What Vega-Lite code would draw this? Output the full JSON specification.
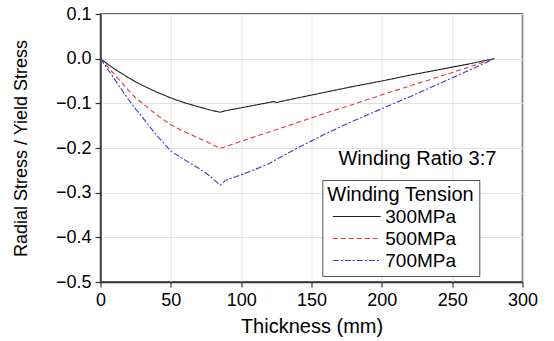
{
  "$schema": "https://vega.github.io/schema/vega-lite/v6.json",
  "width": 422,
  "height": 268,
  "autosize": {"type": "none"},
  "padding": {"left": 100.5, "top": 14, "right": 31.5, "bottom": 59},
  "background": "white",
  "config": {
    "font": "Liberation Sans",
    "view": {"stroke": "#333333", "strokeWidth": 1.5},
    "axis": {"grid": true, "gridColor": "#e2e2e2", "gridWidth": 1, "gridOpacity": 1},
    "legend": {
      "orient": "none",
      "legendX": 221.8,
      "legendY": 166,
      "padding": 5,
      "strokeColor": "#555555",
      "fillColor": "white",
      "titleFontSize": 20,
      "titleFontWeight": "normal",
      "titleColor": "black",
      "titleFont": "Liberation Sans",
      "labelFont": "Liberation Sans",
      "labelFontSize": 19,
      "labelColor": "black",
      "symbolType": "M-4,0H4",
      "symbolSize": 144,
      "symbolStrokeWidth": 1.2,
      "symbolOffset": 20,
      "labelOffset": 19,
      "rowPadding": 2,
      "titlePadding": 2
    }
  },
  "datasets": {
    "curves": [
      {"t": 0, "s": 0, "tension": "300MPa"},
      {"t": 5, "s": -0.012, "tension": "300MPa"},
      {"t": 10, "s": -0.023, "tension": "300MPa"},
      {"t": 15, "s": -0.033, "tension": "300MPa"},
      {"t": 20, "s": -0.043, "tension": "300MPa"},
      {"t": 25, "s": -0.052, "tension": "300MPa"},
      {"t": 30, "s": -0.06, "tension": "300MPa"},
      {"t": 40, "s": -0.075, "tension": "300MPa"},
      {"t": 50, "s": -0.088, "tension": "300MPa"},
      {"t": 60, "s": -0.099, "tension": "300MPa"},
      {"t": 70, "s": -0.108, "tension": "300MPa"},
      {"t": 78, "s": -0.115, "tension": "300MPa"},
      {"t": 85, "s": -0.12, "tension": "300MPa"},
      {"t": 88, "s": -0.117, "tension": "300MPa"},
      {"t": 100, "s": -0.11, "tension": "300MPa"},
      {"t": 110, "s": -0.104, "tension": "300MPa"},
      {"t": 120, "s": -0.098, "tension": "300MPa"},
      {"t": 123, "s": -0.096, "tension": "300MPa"},
      {"t": 125, "s": -0.098, "tension": "300MPa"},
      {"t": 140, "s": -0.088, "tension": "300MPa"},
      {"t": 160, "s": -0.075, "tension": "300MPa"},
      {"t": 180, "s": -0.062, "tension": "300MPa"},
      {"t": 200, "s": -0.05, "tension": "300MPa"},
      {"t": 220, "s": -0.037, "tension": "300MPa"},
      {"t": 240, "s": -0.025, "tension": "300MPa"},
      {"t": 260, "s": -0.013, "tension": "300MPa"},
      {"t": 280, "s": 0, "tension": "300MPa"},
      {"t": 0, "s": 0, "tension": "500MPa"},
      {"t": 5, "s": -0.018, "tension": "500MPa"},
      {"t": 10, "s": -0.036, "tension": "500MPa"},
      {"t": 15, "s": -0.053, "tension": "500MPa"},
      {"t": 20, "s": -0.071, "tension": "500MPa"},
      {"t": 25, "s": -0.088, "tension": "500MPa"},
      {"t": 30, "s": -0.1, "tension": "500MPa"},
      {"t": 40, "s": -0.126, "tension": "500MPa"},
      {"t": 50, "s": -0.148, "tension": "500MPa"},
      {"t": 60, "s": -0.164, "tension": "500MPa"},
      {"t": 70, "s": -0.178, "tension": "500MPa"},
      {"t": 78, "s": -0.19, "tension": "500MPa"},
      {"t": 85, "s": -0.201, "tension": "500MPa"},
      {"t": 100, "s": -0.185, "tension": "500MPa"},
      {"t": 120, "s": -0.164, "tension": "500MPa"},
      {"t": 140, "s": -0.143, "tension": "500MPa"},
      {"t": 160, "s": -0.122, "tension": "500MPa"},
      {"t": 180, "s": -0.102, "tension": "500MPa"},
      {"t": 200, "s": -0.081, "tension": "500MPa"},
      {"t": 220, "s": -0.061, "tension": "500MPa"},
      {"t": 240, "s": -0.041, "tension": "500MPa"},
      {"t": 260, "s": -0.021, "tension": "500MPa"},
      {"t": 280, "s": 0, "tension": "500MPa"},
      {"t": 0, "s": 0, "tension": "700MPa"},
      {"t": 5, "s": -0.023, "tension": "700MPa"},
      {"t": 10, "s": -0.046, "tension": "700MPa"},
      {"t": 15, "s": -0.069, "tension": "700MPa"},
      {"t": 20, "s": -0.092, "tension": "700MPa"},
      {"t": 25, "s": -0.113, "tension": "700MPa"},
      {"t": 30, "s": -0.132, "tension": "700MPa"},
      {"t": 40, "s": -0.172, "tension": "700MPa"},
      {"t": 50, "s": -0.207, "tension": "700MPa"},
      {"t": 60, "s": -0.227, "tension": "700MPa"},
      {"t": 70, "s": -0.246, "tension": "700MPa"},
      {"t": 75, "s": -0.256, "tension": "700MPa"},
      {"t": 80, "s": -0.269, "tension": "700MPa"},
      {"t": 85, "s": -0.283, "tension": "700MPa"},
      {"t": 89, "s": -0.272, "tension": "700MPa"},
      {"t": 100, "s": -0.26, "tension": "700MPa"},
      {"t": 110, "s": -0.248, "tension": "700MPa"},
      {"t": 120, "s": -0.235, "tension": "700MPa"},
      {"t": 123, "s": -0.229, "tension": "700MPa"},
      {"t": 140, "s": -0.2, "tension": "700MPa"},
      {"t": 160, "s": -0.168, "tension": "700MPa"},
      {"t": 180, "s": -0.139, "tension": "700MPa"},
      {"t": 200, "s": -0.112, "tension": "700MPa"},
      {"t": 220, "s": -0.085, "tension": "700MPa"},
      {"t": 240, "s": -0.057, "tension": "700MPa"},
      {"t": 260, "s": -0.029, "tension": "700MPa"},
      {"t": 280, "s": 0, "tension": "700MPa"}
    ],
    "notes": [
      {"t": 225.3, "s": -0.238, "label": "Winding Ratio 3:7"}
    ]
  },
  "layer": [
    {
      "data": {"name": "curves"},
      "mark": {"type": "line", "strokeWidth": 1.1},
      "encoding": {
        "x": {
          "field": "t",
          "type": "quantitative",
          "scale": {"domain": [0, 300], "nice": false},
          "axis": {
            "title": "Thickness (mm)",
            "titleFontSize": 20,
            "titleFontWeight": "normal",
            "titleColor": "black",
            "titlePadding": 7.6,
            "values": [0, 25, 50, 75, 100, 125, 150, 175, 200, 225, 250, 275, 300],
            "labelExpr": "datum.value % 50 === 0 ? datum.label : ''",
            "labelFontSize": 18,
            "labelColor": "black",
            "labelPadding": 4.3,
            "labelFlush": false,
            "labelOverlap": false,
            "tickSize": {"condition": {"test": "datum.value % 50 === 0", "value": 5}, "value": 3},
            "tickColor": "#333333",
            "tickWidth": 1.2,
            "domainColor": "#333333",
            "domainWidth": 1.5
          }
        },
        "y": {
          "field": "s",
          "type": "quantitative",
          "scale": {"domain": [-0.5, 0.1], "nice": false},
          "axis": {
            "title": "Radial Stress / Yield Stress",
            "titleFontSize": 18,
            "titleFontWeight": "normal",
            "titleColor": "black",
            "titlePadding": 25,
            "values": [-0.5, -0.45, -0.4, -0.35, -0.3, -0.25, -0.2, -0.15, -0.1, -0.05, 0, 0.05, 0.1],
            "format": ".1f",
            "labelExpr": "abs(round(datum.value * 100)) % 10 === 0 ? datum.label : ''",
            "labelFontSize": 18,
            "labelColor": "black",
            "labelPadding": 4,
            "labelFlush": false,
            "labelOverlap": false,
            "tickSize": {"condition": {"test": "abs(round(datum.value * 100)) % 10 === 0", "value": 5.5}, "value": 3},
            "tickColor": "#333333",
            "tickWidth": 1.2,
            "domainColor": "#333333",
            "domainWidth": 1.5
          }
        },
        "color": {
          "field": "tension",
          "type": "nominal",
          "scale": {"domain": ["300MPa", "500MPa", "700MPa"], "range": ["#222222", "#e03c3c", "#3c3cd0"]},
          "legend": {"title": "Winding Tension"}
        },
        "strokeDash": {
          "field": "tension",
          "type": "nominal",
          "scale": {"domain": ["300MPa", "500MPa", "700MPa"], "range": [[1, 0], [5, 3], [6, 2, 2, 2]]},
          "legend": {"title": "Winding Tension"}
        }
      }
    },
    {
      "data": {"name": "notes"},
      "mark": {"type": "text", "fontSize": 20, "align": "center", "baseline": "alphabetic", "color": "black", "font": "Liberation Sans"},
      "encoding": {
        "x": {"field": "t", "type": "quantitative"},
        "y": {"field": "s", "type": "quantitative"},
        "text": {"field": "label"}
      }
    }
  ]
}
